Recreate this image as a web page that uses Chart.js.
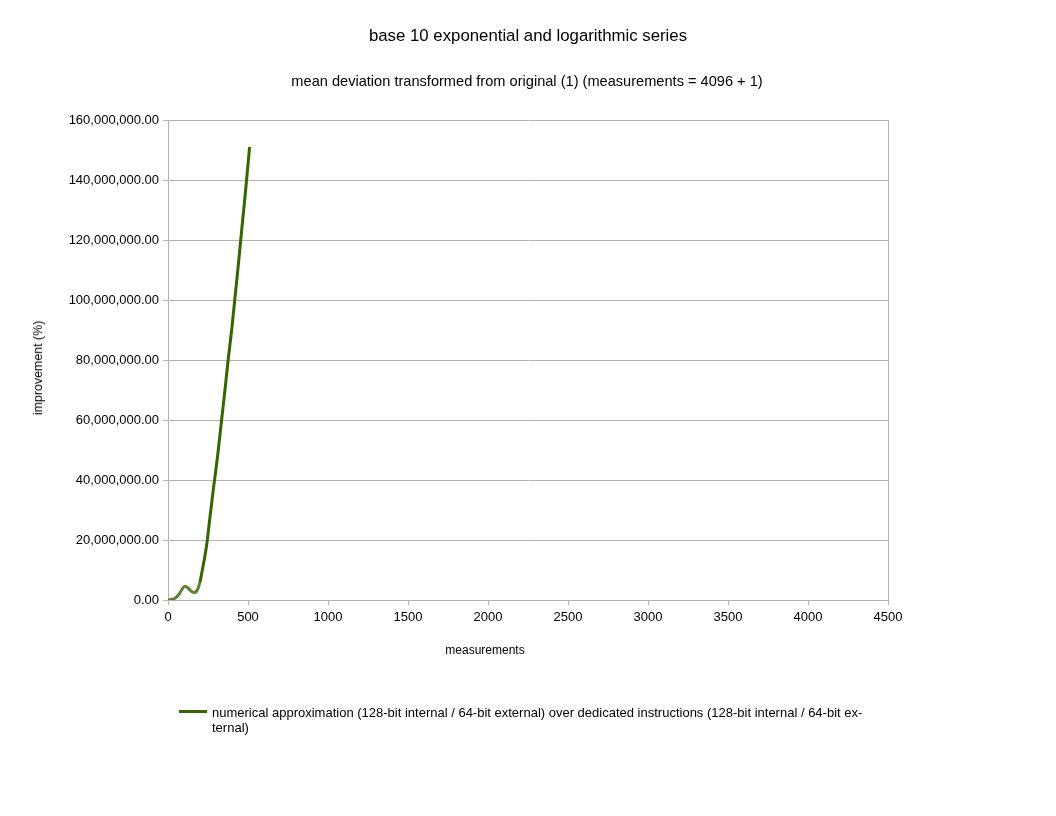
<!DOCTYPE html>
<html>
<head>
<meta charset="utf-8">
<script src="https://cdn.jsdelivr.net/npm/chart.js@4/dist/chart.umd.min.js"></script>
<style>
  body { margin: 0; background: #fff; }
  #wrap { position: relative; width: 1056px; height: 816px; font-family: "Liberation Sans", Arial, sans-serif; color: #000; }
  canvas { position: absolute; left: 0; top: 0; }
  .lbl { position: absolute; white-space: nowrap; transform: translate(-50%, -50%); }
  #title { left: 528px; top: 36px; font-size: 16.8px; }
  #subtitle { left: 527px; top: 81px; font-size: 14.6px; }
  #xtitle { left: 485px; top: 650px; font-size: 12px; }
  #ytitle { left: 38px; top: 368px; font-size: 12.4px; transform: translate(-50%, -50%) rotate(-90deg); }
  #legend {
    position: absolute; left: 179px; top: 705px; width: 700px;
    font-size: 13px; line-height: 15px;
  }
  #legend .swatch {
    position: absolute; left: 0; top: 5px; width: 28px; height: 3px; background: #336600;
  }
  #legend .text { margin-left: 33px; }
</style>
</head>
<body>
<div id="wrap">
  <canvas id="chart" width="1056" height="816"></canvas>
  <div class="lbl" id="title">base 10 exponential and logarithmic series</div>
  <div class="lbl" id="subtitle">mean deviation transformed from original (1) (measurements = 4096 + 1)</div>
  <div class="lbl" id="xtitle">measurements</div>
  <div class="lbl" id="ytitle">improvement (%)</div>
  <div id="legend"><span class="swatch"></span><div class="text">numerical approximation (128-bit internal / 64-bit external) over dedicated instructions (128-bit internal / 64-bit ex-<br>ternal)</div></div>
</div>
<script>
// valori
const measurements = [0, 20, 44, 70, 90, 106, 125, 145, 165, 185, 200, 212, 225, 242, 262, 283, 310, 335, 360, 377, 400, 419, 440, 460, 485, 510];
const improvement = [0, 200000, 600000, 2000000, 3800000, 4600000, 4000000, 2900000, 2500000, 3500000, 6000000, 9300000, 13000000, 18500000, 27500000, 36700000, 48000000, 60000000, 72000000, 80500000, 91000000, 101000000, 112000000, 123000000, 136500000, 151000000];
const xTicks = [0, 500, 1000, 1500, 2000, 2500, 3000, 3500, 4000, 4500];

const seriesLabel = "numerical approximation (128-bit internal / 64-bit external) over dedicated instructions (128-bit internal / 64-bit external)";
const gridColor = "#b3b3b3";

Chart.defaults.font.family = "'Liberation Sans', Arial, sans-serif";
Chart.defaults.color = "#000";

const points = measurements.map((m, i) => ({ x: m, y: improvement[i] }));

new Chart(document.getElementById("chart"), {
    type: "line",
    data: {
        datasets: [{
            label: seriesLabel,
            data: points,
            borderColor: "#336600",
            borderWidth: 3,
            pointRadius: 0,
            cubicInterpolationMode: "monotone",
            fill: false,
            segment: {
                // partea de jos apare mai deschisă în original
                borderColor: c => c.p0.parsed.x < 200 ? "#5b8232" : "#336600"
            }
        }]
    },
    options: {
        responsive: false,
        animation: false,
        layout: { padding: { left: 0, right: 1056 - 888, top: 120, bottom: 146 } },
        plugins: {
            legend: { display: false },
            tooltip: { enabled: false }
        },
        scales: {
            x: {
                type: "linear",
                min: 0,
                max: 4500,
                afterBuildTicks: s => { s.ticks = xTicks.map(v => ({ value: v })); },
                ticks: {
                    font: { size: 13 },
                    padding: 5,
                    maxRotation: 0,
                    callback: v => String(v)
                },
                grid: {
                    color: c => (c.tick && c.tick.value === 4500) ? gridColor : "rgba(0,0,0,0)",
                    tickColor: gridColor,
                    tickLength: 5
                },
                border: { color: gridColor },
                afterFit: s => { s.height = 70; }
            },
            y: {
                min: 0,
                max: 160000000,
                ticks: {
                    stepSize: 20000000,
                    font: { size: 13 },
                    padding: 4,
                    callback: v => v.toLocaleString("en-US", { minimumFractionDigits: 2, maximumFractionDigits: 2 })
                },
                grid: {
                    color: gridColor,
                    tickColor: gridColor,
                    tickLength: 5
                },
                border: { color: gridColor },
                afterFit: s => { s.width = 168; }
            }
        }
    }
});
</script>
</body>
</html>
